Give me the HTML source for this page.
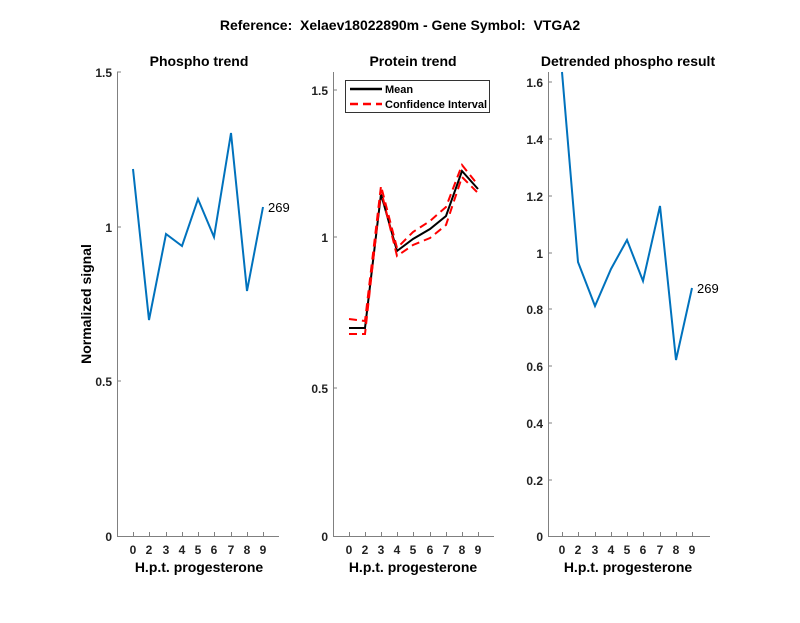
<!DOCTYPE html>
<html><head><style>body{margin:0;background:#fff}</style></head><body>
<svg width="800" height="618" xmlns="http://www.w3.org/2000/svg" font-family="Liberation Sans, sans-serif">
<rect width="800" height="618" fill="#fff"/>
<text x="400" y="30" text-anchor="middle" font-size="14" font-weight="bold" style="white-space:pre">Reference:  Xelaev18022890m - Gene Symbol:  VTGA2</text>
<g font-size="14" font-weight="bold" text-anchor="middle">
<text x="199" y="66">Phospho trend</text>
<text x="413" y="66">Protein trend</text>
<text x="628" y="66">Detrended phospho result</text>
<text x="199" y="572">H.p.t. progesterone</text>
<text x="413" y="572">H.p.t. progesterone</text>
<text x="628" y="572">H.p.t. progesterone</text>
<text transform="translate(91,304) rotate(-90)">Normalized signal</text>
</g>
<g stroke="#808080" stroke-width="1" fill="none">
<path d="M117.5,72V536.5H279"/>
<path d="M333.5,72V536.5H494"/>
<path d="M548.5,72V536.5H710"/>
</g>
<g stroke="#808080" stroke-width="1">
<path d="M133.5,536v-4M149.5,536v-4M166.5,536v-4M182.5,536v-4M198.5,536v-4M214.5,536v-4M231.5,536v-4M247.5,536v-4M263.5,536v-4"/>
<path d="M349.5,536v-4M365.5,536v-4M381.5,536v-4M397.5,536v-4M413.5,536v-4M430.5,536v-4M446.5,536v-4M462.5,536v-4M478.5,536v-4"/>
<path d="M562.5,536v-4M578.5,536v-4M595.5,536v-4M611.5,536v-4M627.5,536v-4M643.5,536v-4M660.5,536v-4M676.5,536v-4M692.5,536v-4"/>
<path d="M117,72h4M117,227h4M117,381h4M333,90h4M333,237h4M333,388h4M548,82h4M548,139h4M548,196h4M548,253h4M548,309h4M548,366h4M548,423h4M548,480h4"/>
</g>
<g font-size="12" font-weight="bold" text-anchor="middle" fill="#222">
<text x="133" y="554">0</text><text x="149" y="554">2</text><text x="166" y="554">3</text><text x="182" y="554">4</text><text x="198" y="554">5</text><text x="214" y="554">6</text><text x="231" y="554">7</text><text x="247" y="554">8</text><text x="263" y="554">9</text>
<text x="349" y="554">0</text><text x="365" y="554">2</text><text x="381" y="554">3</text><text x="397" y="554">4</text><text x="413" y="554">5</text><text x="430" y="554">6</text><text x="446" y="554">7</text><text x="462" y="554">8</text><text x="478" y="554">9</text>
<text x="562" y="554">0</text><text x="578" y="554">2</text><text x="595" y="554">3</text><text x="611" y="554">4</text><text x="627" y="554">5</text><text x="643" y="554">6</text><text x="660" y="554">7</text><text x="676" y="554">8</text><text x="692" y="554">9</text>
</g>
<g font-size="12" font-weight="bold" text-anchor="end" fill="#222">
<text x="112" y="77">1.5</text><text x="112" y="232">1</text><text x="112" y="386">0.5</text><text x="112" y="541">0</text>
<text x="328" y="95">1.5</text><text x="328" y="242">1</text><text x="328" y="393">0.5</text><text x="328" y="541">0</text>
<text x="543" y="87">1.6</text><text x="543" y="144">1.4</text><text x="543" y="201">1.2</text><text x="543" y="258">1</text><text x="543" y="314">0.8</text><text x="543" y="371">0.6</text><text x="543" y="428">0.4</text><text x="543" y="485">0.2</text><text x="543" y="541">0</text>
</g>
<g fill="none" stroke="#0072BD" stroke-width="2">
<polyline points="133,169 149,320 166,234 182,246 198,199 214,237 231,133 247,291 263,207"/>
<polyline points="562,72 578,262 595,306 611,269 627,240 643,281 660,206 676,360 692,288"/>
</g>
<text x="268" y="212" font-size="13">269</text>
<text x="697" y="293" font-size="13">269</text>
<polyline fill="none" stroke="#000" stroke-width="2" points="349,328 365,328 381,194 397,251 413,239 430,229 446,216 462,171 478,189"/>
<g fill="none" stroke="#f00" stroke-width="2" stroke-dasharray="8,5">
<polyline points="349,319 365,321 381,186 397,248 413,232 430,221 446,207 462,165 478,185"/>
<polyline points="349,334 365,334 381,190 397,256 413,245 430,238 446,225 462,177 478,193"/>
</g>
<rect x="345.5" y="80.5" width="144" height="32" fill="#fff" stroke="#333"/>
<line x1="350" y1="89" x2="382" y2="89" stroke="#000" stroke-width="2.5"/>
<line x1="350" y1="104" x2="382" y2="104" stroke="#f00" stroke-width="2.5" stroke-dasharray="8,5"/>
<text x="385" y="93" font-size="11" font-weight="bold">Mean</text>
<text x="385" y="108" font-size="11" font-weight="bold">Confidence Interval</text>
</svg>
</body></html>
